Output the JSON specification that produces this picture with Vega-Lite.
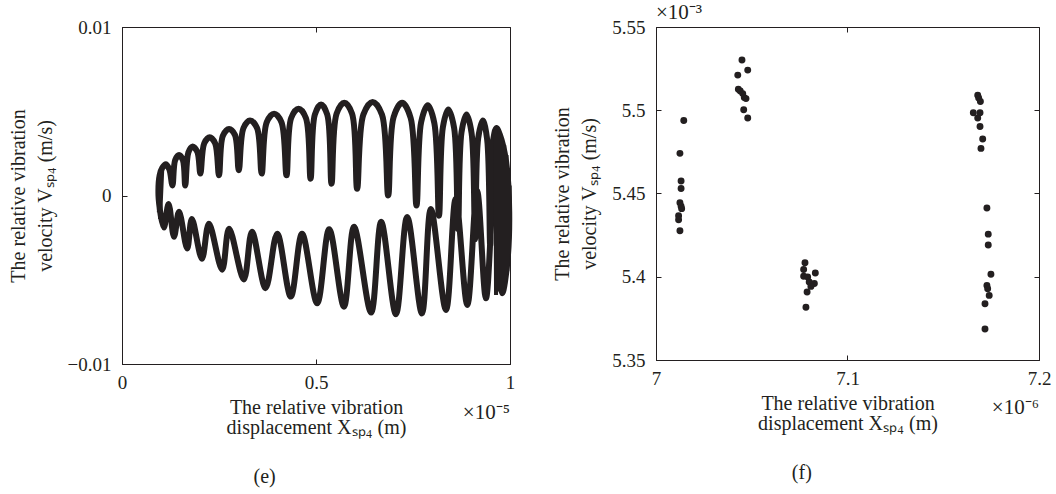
{
  "$schema": "https://vega.github.io/schema/vega-lite/v6.json",
  "background": "white",
  "padding": {"left": 7, "top": 1, "right": 5, "bottom": 5},
  "bounds": "flush",
  "spacing": 146,
  "config": {
    "font": "Liberation Serif",
    "view": {"stroke": "#231f20", "strokeWidth": 1},
    "axis": {
      "grid": false,
      "domainColor": "#231f20",
      "tickColor": "#231f20",
      "labelColor": "#231f20",
      "titleColor": "#231f20",
      "labelFont": "Liberation Serif",
      "titleFont": "Liberation Serif",
      "labelFontSize": 19,
      "titleFontSize": 20,
      "titleFontWeight": "normal",
      "tickSize": -5,
      "labelFlush": false,
      "labelOverlap": false
    },
    "title": {"font": "Liberation Serif", "fontSize": 20, "fontWeight": "normal", "color": "#231f20"}
  },
  "datasets": {
    "orbit": [
      {"i": 1, "part": "loop", "x": 0.100, "v": -0.0012},
      {"i": 2, "part": "loop", "x": 0.094, "v": 0.0},
      {"i": 3, "part": "loop", "x": 0.097, "v": 0.0012},
      {"i": 4, "part": "loop", "x": 0.104, "v": 0.00165},
      {"i": 5, "part": "loop", "x": 0.113, "v": 0.00185},
      {"i": 6, "part": "loop", "x": 0.122, "v": 0.00155},
      {"i": 7, "part": "loop", "x": 0.130, "v": 0.0006},
      {"i": 8, "part": "loop", "x": 0.137, "v": 0.0021},
      {"i": 9, "part": "loop", "x": 0.147, "v": 0.0024},
      {"i": 10, "part": "loop", "x": 0.157, "v": 0.0021},
      {"i": 11, "part": "loop", "x": 0.163, "v": 0.0006},
      {"i": 12, "part": "loop", "x": 0.171, "v": 0.00255},
      {"i": 13, "part": "loop", "x": 0.181, "v": 0.0029},
      {"i": 14, "part": "loop", "x": 0.194, "v": 0.0026},
      {"i": 15, "part": "loop", "x": 0.202, "v": 0.0013},
      {"i": 16, "part": "loop", "x": 0.212, "v": 0.0031},
      {"i": 17, "part": "loop", "x": 0.226, "v": 0.00345},
      {"i": 18, "part": "loop", "x": 0.240, "v": 0.0031},
      {"i": 19, "part": "loop", "x": 0.250, "v": 0.0012},
      {"i": 20, "part": "loop", "x": 0.260, "v": 0.00355},
      {"i": 21, "part": "loop", "x": 0.276, "v": 0.00395},
      {"i": 22, "part": "loop", "x": 0.291, "v": 0.0036},
      {"i": 23, "part": "loop", "x": 0.301, "v": 0.0015},
      {"i": 24, "part": "loop", "x": 0.313, "v": 0.004},
      {"i": 25, "part": "loop", "x": 0.330, "v": 0.00445},
      {"i": 26, "part": "loop", "x": 0.348, "v": 0.004},
      {"i": 27, "part": "loop", "x": 0.360, "v": 0.0013},
      {"i": 28, "part": "loop", "x": 0.373, "v": 0.00435},
      {"i": 29, "part": "loop", "x": 0.392, "v": 0.00485},
      {"i": 30, "part": "loop", "x": 0.411, "v": 0.00435},
      {"i": 31, "part": "loop", "x": 0.424, "v": 0.0012},
      {"i": 32, "part": "loop", "x": 0.436, "v": 0.0046},
      {"i": 33, "part": "loop", "x": 0.455, "v": 0.00515},
      {"i": 34, "part": "loop", "x": 0.474, "v": 0.0046},
      {"i": 35, "part": "loop", "x": 0.486, "v": 0.001},
      {"i": 36, "part": "loop", "x": 0.497, "v": 0.0048},
      {"i": 37, "part": "loop", "x": 0.513, "v": 0.0054},
      {"i": 38, "part": "loop", "x": 0.529, "v": 0.0048},
      {"i": 39, "part": "loop", "x": 0.540, "v": 0.0007},
      {"i": 40, "part": "loop", "x": 0.553, "v": 0.00485},
      {"i": 41, "part": "loop", "x": 0.573, "v": 0.0055},
      {"i": 42, "part": "loop", "x": 0.593, "v": 0.00485},
      {"i": 43, "part": "loop", "x": 0.606, "v": 0.0004},
      {"i": 44, "part": "loop", "x": 0.622, "v": 0.0048},
      {"i": 45, "part": "loop", "x": 0.646, "v": 0.00555},
      {"i": 46, "part": "loop", "x": 0.670, "v": 0.0048},
      {"i": 47, "part": "loop", "x": 0.686, "v": 0.0},
      {"i": 48, "part": "loop", "x": 0.700, "v": 0.00465},
      {"i": 49, "part": "loop", "x": 0.722, "v": 0.0055},
      {"i": 50, "part": "loop", "x": 0.744, "v": 0.0046},
      {"i": 51, "part": "loop", "x": 0.759, "v": -0.0006},
      {"i": 52, "part": "loop", "x": 0.771, "v": 0.00435},
      {"i": 53, "part": "loop", "x": 0.788, "v": 0.00535},
      {"i": 54, "part": "loop", "x": 0.805, "v": 0.0043},
      {"i": 55, "part": "loop", "x": 0.817, "v": -0.0012},
      {"i": 56, "part": "loop", "x": 0.827, "v": 0.00405},
      {"i": 57, "part": "loop", "x": 0.841, "v": 0.0051},
      {"i": 58, "part": "loop", "x": 0.856, "v": 0.004},
      {"i": 59, "part": "loop", "x": 0.866, "v": -0.002},
      {"i": 60, "part": "loop", "x": 0.875, "v": 0.00375},
      {"i": 61, "part": "loop", "x": 0.888, "v": 0.0048},
      {"i": 62, "part": "loop", "x": 0.901, "v": 0.0037},
      {"i": 63, "part": "loop", "x": 0.910, "v": -0.0026},
      {"i": 64, "part": "loop", "x": 0.918, "v": 0.0034},
      {"i": 65, "part": "loop", "x": 0.930, "v": 0.00445},
      {"i": 66, "part": "loop", "x": 0.941, "v": 0.00335},
      {"i": 67, "part": "loop", "x": 0.949, "v": -0.003},
      {"i": 68, "part": "loop", "x": 0.955, "v": 0.003},
      {"i": 69, "part": "loop", "x": 0.965, "v": 0.004},
      {"i": 70, "part": "loop", "x": 0.974, "v": 0.0036},
      {"i": 71, "part": "loop", "x": 0.990, "v": 0.002},
      {"i": 72, "part": "loop", "x": 0.998, "v": -0.001},
      {"i": 73, "part": "loop", "x": 0.993, "v": -0.004},
      {"i": 74, "part": "loop", "x": 0.980, "v": -0.0058},
      {"i": 75, "part": "loop", "x": 0.960, "v": 0.0008},
      {"i": 76, "part": "loop", "x": 0.938, "v": -0.0061},
      {"i": 77, "part": "loop", "x": 0.915, "v": 0.0003},
      {"i": 78, "part": "loop", "x": 0.890, "v": -0.0065},
      {"i": 79, "part": "loop", "x": 0.860, "v": -0.0002},
      {"i": 80, "part": "loop", "x": 0.835, "v": -0.0068},
      {"i": 81, "part": "loop", "x": 0.796, "v": -0.0008},
      {"i": 82, "part": "loop", "x": 0.773, "v": -0.007},
      {"i": 83, "part": "loop", "x": 0.735, "v": -0.00127},
      {"i": 84, "part": "loop", "x": 0.706, "v": -0.00705},
      {"i": 85, "part": "loop", "x": 0.668, "v": -0.00156},
      {"i": 86, "part": "loop", "x": 0.642, "v": -0.00695},
      {"i": 87, "part": "loop", "x": 0.598, "v": -0.00186},
      {"i": 88, "part": "loop", "x": 0.572, "v": -0.0066},
      {"i": 89, "part": "loop", "x": 0.534, "v": -0.002},
      {"i": 90, "part": "loop", "x": 0.503, "v": -0.0064},
      {"i": 91, "part": "loop", "x": 0.464, "v": -0.00227},
      {"i": 92, "part": "loop", "x": 0.435, "v": -0.006},
      {"i": 93, "part": "loop", "x": 0.400, "v": -0.00227},
      {"i": 94, "part": "loop", "x": 0.370, "v": -0.0055},
      {"i": 95, "part": "loop", "x": 0.335, "v": -0.00215},
      {"i": 96, "part": "loop", "x": 0.314, "v": -0.00498},
      {"i": 97, "part": "loop", "x": 0.276, "v": -0.00198},
      {"i": 98, "part": "loop", "x": 0.258, "v": -0.0044},
      {"i": 99, "part": "loop", "x": 0.224, "v": -0.00168},
      {"i": 100, "part": "loop", "x": 0.206, "v": -0.00375},
      {"i": 101, "part": "loop", "x": 0.180, "v": -0.00139},
      {"i": 102, "part": "loop", "x": 0.168, "v": -0.00315},
      {"i": 103, "part": "loop", "x": 0.147, "v": -0.00097},
      {"i": 104, "part": "loop", "x": 0.134, "v": -0.00245},
      {"i": 105, "part": "loop", "x": 0.120, "v": -0.0005},
      {"i": 106, "part": "loop", "x": 0.108, "v": -0.0019},
      {"i": 107, "part": "loop", "x": 0.100, "v": -0.0012},
      {"i": 201, "part": "stripR", "x": 0.962, "v": 0.0039},
      {"i": 202, "part": "stripR", "x": 0.964, "v": -0.0059},
      {"i": 203, "part": "stripR", "x": 0.970, "v": 0.0037},
      {"i": 204, "part": "stripR", "x": 0.972, "v": -0.0057},
      {"i": 205, "part": "stripR", "x": 0.978, "v": 0.0034},
      {"i": 206, "part": "stripR", "x": 0.980, "v": -0.0055},
      {"i": 207, "part": "stripR", "x": 0.985, "v": 0.003},
      {"i": 208, "part": "stripR", "x": 0.987, "v": -0.0051},
      {"i": 209, "part": "stripR", "x": 0.991, "v": 0.0024},
      {"i": 210, "part": "stripR", "x": 0.993, "v": -0.0045},
      {"i": 211, "part": "stripR", "x": 0.996, "v": 0.0016},
      {"i": 212, "part": "stripR", "x": 0.997, "v": -0.0035},
      {"i": 213, "part": "stripR", "x": 0.999, "v": 0.0006},
      {"i": 214, "part": "stripR", "x": 0.999, "v": -0.002},
      {"i": 301, "part": "stripL", "x": 0.098, "v": 0.0014},
      {"i": 302, "part": "stripL", "x": 0.095, "v": -0.001},
      {"i": 303, "part": "stripL", "x": 0.101, "v": 0.0016},
      {"i": 304, "part": "stripL", "x": 0.098, "v": -0.0014},
      {"i": 305, "part": "stripL", "x": 0.104, "v": 0.0017}
    ],
    "poincare": [
      {"x": 7.0145, "v": 5.4938}, {"x": 7.0125, "v": 5.4741}, {"x": 7.0131, "v": 5.4575}, {"x": 7.0131, "v": 5.453},
      {"x": 7.0125, "v": 5.4444}, {"x": 7.0131, "v": 5.4423}, {"x": 7.0134, "v": 5.4409}, {"x": 7.0118, "v": 5.4367},
      {"x": 7.0118, "v": 5.4342}, {"x": 7.0125, "v": 5.4276},
      {"x": 7.0449, "v": 5.5302}, {"x": 7.0479, "v": 5.5241}, {"x": 7.0427, "v": 5.5211}, {"x": 7.043, "v": 5.5126},
      {"x": 7.044, "v": 5.5116}, {"x": 7.0453, "v": 5.51}, {"x": 7.0461, "v": 5.5076}, {"x": 7.047, "v": 5.507},
      {"x": 7.0458, "v": 5.5003}, {"x": 7.0479, "v": 5.4953},
      {"x": 7.0778, "v": 5.4084}, {"x": 7.0771, "v": 5.4044}, {"x": 7.0832, "v": 5.4023}, {"x": 7.0771, "v": 5.4003},
      {"x": 7.0792, "v": 5.3999}, {"x": 7.08, "v": 5.3969}, {"x": 7.0827, "v": 5.3959}, {"x": 7.0809, "v": 5.3942},
      {"x": 7.0789, "v": 5.3908}, {"x": 7.0783, "v": 5.3817},
      {"x": 7.168, "v": 5.509}, {"x": 7.1685, "v": 5.5074}, {"x": 7.1694, "v": 5.5053}, {"x": 7.1657, "v": 5.4985},
      {"x": 7.1692, "v": 5.4985}, {"x": 7.168, "v": 5.4953}, {"x": 7.1692, "v": 5.4902}, {"x": 7.1706, "v": 5.4827},
      {"x": 7.1697, "v": 5.4771}, {"x": 7.1728, "v": 5.4413}, {"x": 7.1735, "v": 5.4256}, {"x": 7.1735, "v": 5.4191},
      {"x": 7.1749, "v": 5.4015}, {"x": 7.1728, "v": 5.3948}, {"x": 7.1732, "v": 5.3928}, {"x": 7.174, "v": 5.3888},
      {"x": 7.1718, "v": 5.3838}, {"x": 7.1718, "v": 5.3686}
    ]
  },
  "hconcat": [
    {
      "width": 388,
      "height": 337,
      "title": {"text": "(e)", "orient": "bottom", "frame": "bounds", "anchor": "middle", "offset": 30},
      "resolve": {"axis": {"x": "independent", "y": "independent"}},
      "layer": [
        {
          "data": {"name": "orbit"},
          "transform": [{"filter": "datum.part === 'loop'"}],
          "mark": {"type": "line", "interpolate": "catmull-rom", "strokeWidth": 6, "color": "#231f20"},
          "encoding": {
            "x": {"field": "x", "type": "quantitative", "scale": {"domain": [0, 1], "nice": false, "zero": false},
              "axis": {"orient": "bottom", "values": [0, 0.5, 1], "format": "~g", "labelPadding": 14, "titlePadding": 5, "titleLineHeight": 20,
                "title": ["The relative vibration", "displacement Xₛₚ₄ (m)"]}},
            "y": {"field": "v", "type": "quantitative", "scale": {"domain": [-0.01, 0.01], "nice": false, "zero": false},
              "axis": {"orient": "left", "values": [-0.01, 0, 0.01], "format": "~g", "labelPadding": 16, "titlePadding": 12, "titleLineHeight": 27,
                "title": ["The relative vibration", "velocity Vₛₚ₄ (m/s)"]}},
            "order": {"field": "i", "type": "quantitative"}
          }
        },
        {
          "data": {"name": "orbit"},
          "transform": [{"filter": "datum.part !== 'loop'"}],
          "mark": {"type": "line", "interpolate": "linear", "strokeWidth": 4, "color": "#231f20"},
          "encoding": {
            "x": {"field": "x", "type": "quantitative", "axis": null},
            "y": {"field": "v", "type": "quantitative", "axis": null},
            "detail": {"field": "part"},
            "order": {"field": "i", "type": "quantitative"}
          }
        },
        {
          "data": {"name": "orbit"},
          "transform": [{"filter": "datum.i === 1"}],
          "mark": {"type": "point", "opacity": 0},
          "encoding": {
            "x": {"field": "x", "type": "quantitative", "axis": {"orient": "top", "values": [0, 0.5, 1], "labels": false, "title": null, "domain": false}},
            "y": {"field": "v", "type": "quantitative", "axis": {"orient": "right", "values": [-0.01, 0, 0.01], "labels": false, "title": null, "domain": false}}
          }
        },
        {
          "data": {"values": [{"label": "×10⁻⁵"}]},
          "mark": {"type": "text", "align": "right", "baseline": "alphabetic", "dy": 55, "font": "Liberation Serif", "fontSize": 21, "color": "#231f20"},
          "encoding": {
            "x": {"datum": 1, "type": "quantitative", "axis": null},
            "y": {"datum": -0.01, "type": "quantitative", "axis": null},
            "text": {"field": "label"}
          }
        }
      ]
    },
    {
      "width": 383,
      "height": 333,
      "title": {"text": "(f)", "orient": "bottom", "frame": "bounds", "anchor": "middle", "offset": 30},
      "resolve": {"axis": {"x": "independent", "y": "independent"}},
      "layer": [
        {
          "data": {"name": "poincare"},
          "mark": {"type": "circle", "size": 48, "opacity": 1, "color": "#231f20"},
          "encoding": {
            "x": {"field": "x", "type": "quantitative", "scale": {"domain": [7.0, 7.2], "nice": false, "zero": false},
              "axis": {"orient": "bottom", "values": [7, 7.1, 7.2], "format": "~g", "labelPadding": 14, "titlePadding": 5, "titleLineHeight": 20,
                "title": ["The relative vibration", "displacement Xₛₚ₄ (m)"]}},
            "y": {"field": "v", "type": "quantitative", "scale": {"domain": [5.35, 5.55], "nice": false, "zero": false},
              "axis": {"orient": "left", "values": [5.35, 5.4, 5.45, 5.5, 5.55], "format": "~g", "labelPadding": 16, "titlePadding": 12, "titleLineHeight": 27,
                "title": ["The relative vibration", "velocity Vₛₚ₄ (m/s)"]}}
          }
        },
        {
          "data": {"name": "poincare"},
          "transform": [{"filter": "datum.v > 5.53"}],
          "mark": {"type": "point", "opacity": 0},
          "encoding": {
            "x": {"field": "x", "type": "quantitative", "axis": {"orient": "top", "values": [7, 7.1, 7.2], "labels": false, "title": null, "domain": false}},
            "y": {"field": "v", "type": "quantitative", "axis": {"orient": "right", "values": [5.35, 5.4, 5.45, 5.5, 5.55], "labels": false, "title": null, "domain": false}}
          }
        },
        {
          "data": {"values": [{"label": "×10⁻⁶"}]},
          "mark": {"type": "text", "align": "right", "baseline": "alphabetic", "dy": 54, "font": "Liberation Serif", "fontSize": 21, "color": "#231f20"},
          "encoding": {
            "x": {"datum": 7.2, "type": "quantitative", "axis": null},
            "y": {"datum": 5.35, "type": "quantitative", "axis": null},
            "text": {"field": "label"}
          }
        },
        {
          "data": {"values": [{"label": "×10⁻³"}]},
          "mark": {"type": "text", "align": "left", "baseline": "alphabetic", "dy": -8, "font": "Liberation Serif", "fontSize": 21, "color": "#231f20"},
          "encoding": {
            "x": {"datum": 7.0, "type": "quantitative", "axis": null},
            "y": {"datum": 5.55, "type": "quantitative", "axis": null},
            "text": {"field": "label"}
          }
        }
      ]
    }
  ]
}
